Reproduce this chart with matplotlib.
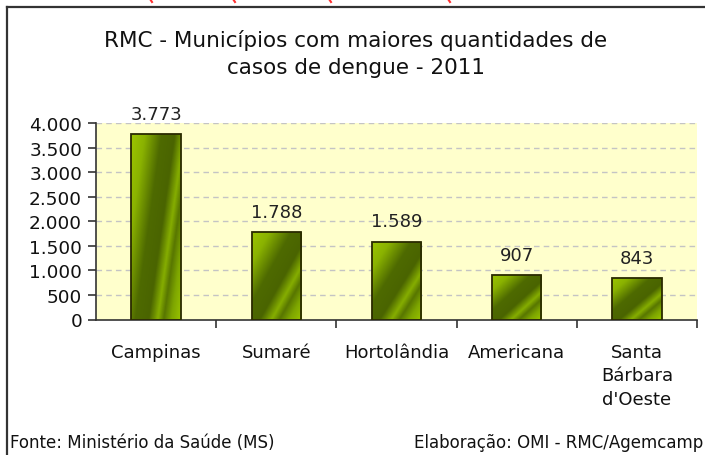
import numpy as np
import matplotlib
matplotlib.use("Agg")
import matplotlib.pyplot as plt
from matplotlib.colors import LinearSegmentedColormap
from matplotlib.lines import Line2D
from matplotlib.ticker import FuncFormatter

municipios = ["Campinas", "Sumaré", "Hortolândia", "Americana", "Santa\nBárbara\nd'Oeste"]
casos = [3773, 1788, 1589, 907, 843]
rotulos = ["3.773", "1.788", "1.589", "907", "843"]

TITULO = "RMC - Municípios com maiores quantidades de\ncasos de dengue - 2011"
FONTE = "Fonte: Ministério da Saúde (MS)"
ELABORACAO = "Elaboração: OMI - RMC/Agemcamp"

W, H = 705, 456
fig = plt.figure(figsize=(W / 100, H / 100), dpi=100)
plt.rcParams["font.family"] = ["DejaVu Sans"]


def px(x, y):
    """pixel (topo-esquerda) -> coordenadas da figura"""
    return x / W, 1 - y / H


# moldura e marcas vermelhas no topo
fig.add_artist(Line2D([7 / W, 1], [1 - 8 / H, 1 - 8 / H], color="#333333", lw=1.6))
fig.add_artist(Line2D([7 / W, 7 / W], [0, 1 - 8 / H], color="#333333", lw=1.6))
for xr in [150, 233, 329, 448]:
    fig.add_artist(Line2D([xr / W, (xr + 2) / W], [1, 1 - 3 / H], color="#ff3030", lw=1.5))

left, right, top, bottom = 96, 697, 124.3, 320.5
ax = fig.add_axes([left / W, 1 - bottom / H, (right - left) / W, (bottom - top) / H])
ax.set_facecolor("#ffffcc")

n = len(municipios)
x = np.arange(n)
largura = 0.41
ax.set_xlim(-0.5, n - 0.5)
ax.set_ylim(0, 4000)

# grade tracejada
for v in range(500, 4001, 500):
    ax.axhline(v, color="#c4c4c4", lw=1.0, ls=(0, (4, 3)), zorder=1)

# degradê diagonal: claro no topo-esquerda, faixa escura, brilho, claro embaixo-direita
cmap = LinearSegmentedColormap.from_list(
    "verde",
    [(0.0, "#9cc600"), (0.18, "#8ab200"), (0.40, "#4e6a00"), (0.58, "#4a6400"),
     (0.70, "#86ae00"), (0.78, "#587600"), (0.88, "#7ea600"), (1.0, "#98c200")],
)

barras = ax.bar(x, casos, width=largura, color="none", edgecolor="#2a2a00", lw=1.3, zorder=4)
ppx = (right - left) / n  # pixels por categoria
for b in barras:
    x0, y0 = b.get_x(), b.get_y()
    w, h = b.get_width(), b.get_height()
    wpx, hpx = w * ppx, h * (bottom - top) / 4000
    k = min(1.0, 2.0 * wpx / hpx)
    gx, gy = np.meshgrid(np.linspace(0, 1, 60), np.linspace(0, 1, 200))
    u = (gx + k * gy) / (1 + k)  # linha 0 = topo
    im = ax.imshow(u, cmap=cmap, vmin=0, vmax=1, extent=[x0, x0 + w, y0, y0 + h],
                   origin="upper", aspect="auto", zorder=3, interpolation="bilinear")
    im.set_clip_path(b)
ax.set_xlim(-0.5, n - 0.5)
ax.set_ylim(0, 4000)

for xi, v, r in zip(x, casos, rotulos):
    ax.annotate(r, (xi, v), xytext=(0, 8), textcoords="offset points", ha="center",
                va="bottom", fontsize=13, color="#222222")

# eixos
for s in ["top", "right"]:
    ax.spines[s].set_visible(False)
for s in ["left", "bottom"]:
    ax.spines[s].set_color("#333333")
    ax.spines[s].set_linewidth(1.2)

ax.set_yticks(range(0, 4001, 500))
ax.yaxis.set_major_formatter(FuncFormatter(lambda v, p: f"{int(v):,}".replace(",", ".")))
ax.tick_params(axis="y", length=6, width=1.2, color="#333333", labelsize=13.3,
               labelcolor="#111111", pad=4)

ax.set_xticks(np.arange(0.5, n - 0.4, 1.0))
ax.set_xticklabels([])
ax.tick_params(axis="x", which="major", length=6, width=1.2, color="#333333")
ax.set_xticks(x, minor=True)
ax.set_xticklabels(municipios, minor=True, fontsize=13, color="#111111", linespacing=1.38)
ax.tick_params(axis="x", which="minor", length=0, pad=17)

fig.text(*px(356, 54), TITULO, ha="center", va="center", fontsize=15.5,
         color="#111111", linespacing=1.45)
fig.text(*px(10, 443), FONTE, ha="left", va="center", fontsize=12, color="#111111")
fig.text(*px(703, 443), ELABORACAO, ha="right", va="center", fontsize=12, color="#111111")

fig.savefig("out.png", dpi=100)
